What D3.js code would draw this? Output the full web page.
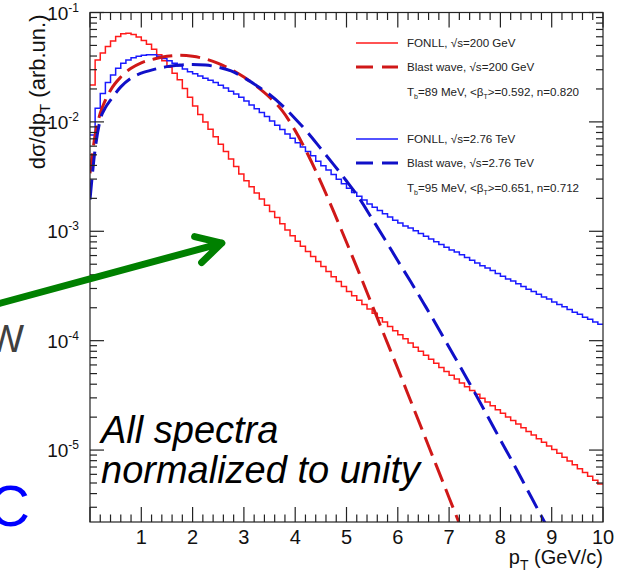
<!DOCTYPE html>
<html>
<head>
<meta charset="utf-8">
<script src="https://cdn.jsdelivr.net/npm/d3@7"></script>
<style>
  body { margin: 0; background: #fff; }
  svg { display: block; }
  text { font-family: "Liberation Sans", Arial, Helvetica, sans-serif; }
</style>
</head>
<body>
<div id="chart"></div>
<script>

// histogram binning (FONLL curves), GeV/c
var ptMin = 0, ptMax = 10, nBins = 100;

// FONLL, sqrt(s)=200 GeV  (one value per 0.1 GeV/c bin)
var fonll200 = [
  2.17e-2, 3.67e-2, 4.27e-2, 4.90e-2, 5.50e-2, 6.03e-2, 6.38e-2, 6.46e-2, 6.31e-2, 5.96e-2,
  5.56e-2, 5.13e-2, 4.62e-2, 4.12e-2, 3.63e-2, 3.16e-2, 2.79e-2, 2.43e-2, 2.02e-2, 1.68e-2,
  1.40e-2, 1.17e-2, 1.00e-2, 8.55e-3, 7.31e-3, 6.25e-3, 5.35e-3, 4.57e-3, 3.91e-3, 3.34e-3,
  2.90e-3, 2.55e-3, 2.24e-3, 1.97e-3, 1.73e-3, 1.52e-3, 1.34e-3, 1.17e-3, 1.03e-3, 9.08e-4,
  8.09e-4, 7.28e-4, 6.55e-4, 5.89e-4, 5.30e-4, 4.76e-4, 4.29e-4, 3.85e-4, 3.47e-4, 3.12e-4,
  2.82e-4, 2.57e-4, 2.34e-4, 2.14e-4, 1.95e-4, 1.78e-4, 1.62e-4, 1.48e-4, 1.35e-4, 1.23e-4,
  1.13e-4, 1.04e-4, 9.51e-5, 8.73e-5, 8.02e-5, 7.36e-5, 6.76e-5, 6.21e-5, 5.70e-5, 5.24e-5,
  4.83e-5, 4.46e-5, 4.11e-5, 3.79e-5, 3.50e-5, 3.23e-5, 2.98e-5, 2.75e-5, 2.54e-5, 2.34e-5,
  2.17e-5, 2.01e-5, 1.86e-5, 1.73e-5, 1.60e-5, 1.48e-5, 1.37e-5, 1.27e-5, 1.18e-5, 1.09e-5,
  1.01e-5, 9.33e-6, 8.61e-6, 7.94e-6, 7.33e-6, 6.76e-6, 6.24e-6, 5.75e-6, 5.31e-6, 4.90e-6
];

// FONLL, sqrt(s)=2.76 TeV
var fonll276 = [
  7.59e-3, 1.33e-2, 1.82e-2, 2.29e-2, 2.69e-2, 3.09e-2, 3.43e-2, 3.67e-2, 3.85e-2, 3.98e-2,
  4.07e-2, 4.12e-2, 4.12e-2, 3.98e-2, 3.80e-2, 3.63e-2, 3.43e-2, 3.24e-2, 3.05e-2, 2.88e-2,
  2.75e-2, 2.63e-2, 2.51e-2, 2.40e-2, 2.29e-2, 2.16e-2, 2.04e-2, 1.91e-2, 1.80e-2, 1.68e-2,
  1.55e-2, 1.43e-2, 1.32e-2, 1.22e-2, 1.12e-2, 1.02e-2, 9.33e-3, 8.51e-3, 7.76e-3, 7.08e-3,
  6.46e-3, 5.89e-3, 5.37e-3, 4.90e-3, 4.37e-3, 3.98e-3, 3.63e-3, 3.31e-3, 2.99e-3, 2.72e-3,
  2.48e-3, 2.26e-3, 2.09e-3, 1.93e-3, 1.78e-3, 1.66e-3, 1.55e-3, 1.45e-3, 1.35e-3, 1.26e-3,
  1.19e-3, 1.12e-3, 1.07e-3, 1.01e-3, 9.55e-4, 9.02e-4, 8.51e-4, 8.04e-4, 7.59e-4, 7.16e-4,
  6.76e-4, 6.46e-4, 6.10e-4, 5.75e-4, 5.43e-4, 5.13e-4, 4.84e-4, 4.62e-4, 4.37e-4, 4.12e-4,
  3.89e-4, 3.67e-4, 3.51e-4, 3.31e-4, 3.13e-4, 2.95e-4, 2.82e-4, 2.66e-4, 2.51e-4, 2.40e-4,
  2.26e-4, 2.14e-4, 2.04e-4, 1.93e-4, 1.82e-4, 1.74e-4, 1.64e-4, 1.57e-4, 1.48e-4, 1.41e-4
];

// Blast wave, sqrt(s)=200 GeV
var bw200Pt = [0, 0.1, 0.2, 0.3, 0.4, 0.6, 0.8, 1, 1.25, 1.5, 1.75, 2, 2.25, 2.5, 2.75,
  3, 3.25, 3.5, 3.75, 4, 4.25, 4.5, 4.75, 5, 5.25, 5.5, 5.75, 6, 6.25, 6.5, 6.75, 7, 7.25];
var bw200 = [3.39e-3, 7.59e-3, 1.20e-2, 1.58e-2, 1.95e-2, 2.57e-2, 3.09e-2, 3.47e-2, 3.76e-2,
  3.98e-2, 4.06e-2, 3.98e-2, 3.76e-2, 3.43e-2, 3.02e-2, 2.57e-2, 2.11e-2, 1.68e-2, 1.26e-2,
  8.32e-3, 5.01e-3, 2.82e-3, 1.51e-3, 7.94e-4, 4.12e-4, 2.11e-4, 1.08e-4, 5.56e-5, 2.82e-5,
  1.43e-5, 7.24e-6, 3.67e-6, 1.86e-6];

// Blast wave, sqrt(s)=2.76 TeV
var bw276Pt = [0, 0.1, 0.2, 0.3, 0.4, 0.6, 0.8, 1, 1.25, 1.5, 1.75, 2, 2.25, 2.5, 2.75,
  3, 3.25, 3.5, 3.75, 4, 4.25, 4.5, 4.75, 5, 5.25, 5.5, 5.75, 6, 6.25, 6.5, 6.75, 7,
  7.25, 7.5, 7.75, 8, 8.25, 8.5, 8.75, 9];
var bw276 = [1.95e-3, 5.62e-3, 1.05e-2, 1.35e-2, 1.58e-2, 2.09e-2, 2.51e-2, 2.79e-2, 3.02e-2,
  3.20e-2, 3.31e-2, 3.35e-2, 3.31e-2, 3.16e-2, 2.92e-2, 2.54e-2, 2.14e-2, 1.78e-2, 1.41e-2,
  1.07e-2, 7.94e-3, 5.69e-3, 4.07e-3, 2.88e-3, 2.00e-3, 1.30e-3, 8.41e-4, 5.37e-4, 3.47e-4,
  2.21e-4, 1.40e-4, 8.71e-5, 5.43e-5, 3.35e-5, 2.04e-5, 1.24e-5, 7.59e-6, 4.57e-6, 2.75e-6,
  1.66e-6];

var xTickLabels = ["1", "2", "3", "4", "5", "6", "7", "8", "9", "10"];
var yTickExp = ["-1", "-2", "-3", "-4", "-5"];

var legendRows = [
  { label: "FONLL, \u221as=200 GeV", color: "#ff1a1a", dash: null, width: 1.5 },
  { label: "Blast wave, \u221as=200 GeV", color: "#d01818", dash: "17,9", width: 3 },
  { params: ["89", "0.592", "0.820"] },
  { label: "FONLL, \u221as=2.76 TeV", color: "#1a1aff", dash: null, width: 1.5 },
  { label: "Blast wave, \u221as=2.76 TeV", color: "#1010c8", dash: "17,9", width: 3 },
  { params: ["95", "0.651", "0.712"] }
];

var W = 621, H = 573;
var margin = { left: 90, right: 18, top: 12.5, bottom: 51 };
var width = W - margin.left - margin.right,
    height = H - margin.top - margin.bottom;

var svg = d3.select("#chart").append("svg")
    .attr("width", W)
    .attr("height", H);

var g = svg.append("g")
    .attr("transform", "translate(" + margin.left + "," + margin.top + ")");

var x = d3.scaleLinear().domain([ptMin, ptMax]).range([0, width]);
var y = d3.scaleLog().domain([2.2e-6, 0.1]).range([height, 0]);

svg.append("defs").append("clipPath").attr("id", "plot-clip")
  .append("rect").attr("width", width).attr("height", height);

// histogram step path
var binW = (ptMax - ptMin) / nBins;
function histPath(vals) {
    var pts = [];
    vals.forEach(function(v, i) {
        pts.push([x(ptMin + i * binW), y(v)]);
        pts.push([x(ptMin + (i + 1) * binW), y(v)]);
    });
    return d3.line()(pts);
}

var plot = g.append("g").attr("clip-path", "url(#plot-clip)");

var smooth = d3.line()
    .x(function(d) { return x(d[0]); })
    .y(function(d) { return y(d[1]); })
    .curve(d3.curveMonotoneX);

plot.append("path")
    .attr("d", histPath(fonll200))
    .attr("fill", "none").attr("stroke", "#ff1a1a").attr("stroke-width", 1.5);

plot.append("path")
    .attr("d", histPath(fonll276))
    .attr("fill", "none").attr("stroke", "#1a1aff").attr("stroke-width", 1.5);

plot.append("path")
    .attr("d", smooth(d3.zip(bw200Pt, bw200)))
    .attr("fill", "none").attr("stroke", "#d01818").attr("stroke-width", 3)
    .attr("stroke-dasharray", "20,8");

plot.append("path")
    .attr("d", smooth(d3.zip(bw276Pt, bw276)))
    .attr("fill", "none").attr("stroke", "#1010c8").attr("stroke-width", 3)
    .attr("stroke-dasharray", "20,8");

// frame
g.append("rect")
    .attr("width", width).attr("height", height)
    .attr("fill", "none").attr("stroke", "#222").attr("stroke-width", 1.2);

// x ticks, bottom and top
var xt = d3.range(0, 51).map(function(i) { return i * 0.2; });
xt.forEach(function(t) {
    var major = Math.abs(t - Math.round(t)) < 1e-6;
    var len = major ? 15 : 7.5;
    g.append("line").attr("x1", x(t)).attr("x2", x(t))
        .attr("y1", height).attr("y2", height - len)
        .attr("stroke", "#222").attr("stroke-width", 1.2);
    g.append("line").attr("x1", x(t)).attr("x2", x(t))
        .attr("y1", 0).attr("y2", len)
        .attr("stroke", "#222").attr("stroke-width", 1.2);
});

g.selectAll(".xlab").data(xTickLabels).enter().append("text")
    .attr("class", "xlab")
    .attr("x", function(d) { return x(+d); })
    .attr("y", height + 22)
    .attr("text-anchor", "middle")
    .attr("font-size", 20)
    .attr("fill", "#111")
    .text(function(d) { return d; });

// y ticks, left and right
y.ticks().forEach(function(t) {
    var m = t / Math.pow(10, Math.floor(Math.log10(t) + 1e-9));
    var major = Math.abs(m - 1) < 1e-6;
    var len = major ? 14 : 7;
    g.append("line").attr("x1", 0).attr("x2", len)
        .attr("y1", y(t)).attr("y2", y(t))
        .attr("stroke", "#222").attr("stroke-width", 1.2);
    g.append("line").attr("x1", width).attr("x2", width - len)
        .attr("y1", y(t)).attr("y2", y(t))
        .attr("stroke", "#222").attr("stroke-width", 1.2);
});

yTickExp.forEach(function(e) {
    var v = Math.pow(10, +e);
    var t = g.append("text")
        .attr("x", -11)
        .attr("y", y(v) + 7)
        .attr("text-anchor", "end")
        .attr("font-size", 19)
        .attr("fill", "#111");
    t.append("tspan").text("10");
    t.append("tspan").attr("font-size", 12).attr("dy", -8).text(e);
});

// axis titles
svg.append("text")
    .attr("transform", "translate(45," + (margin.top + 2) + ") rotate(-90)")
    .attr("text-anchor", "end")
    .attr("font-size", 22)
    .attr("fill", "#111")
    .call(function(t) {
        t.append("tspan").text("d\u03c3/dp");
        t.append("tspan").attr("font-size", 15).attr("dy", 5).text("T");
        t.append("tspan").attr("dy", -5).text(" (arb.un.)");
    });

svg.append("text")
    .attr("x", 603).attr("y", 564)
    .attr("text-anchor", "end")
    .attr("font-size", 20)
    .attr("fill", "#111")
    .call(function(t) {
        t.append("tspan").text("p");
        t.append("tspan").attr("font-size", 14).attr("dy", 6).text("T");
        t.append("tspan").attr("dy", -6).text(" (GeV/c)");
    });

// legend
var legY = [43, 67, 92, 139, 163, 188];
var leg = svg.append("g");
legendRows.forEach(function(r, i) {
    var yy = legY[i];
    if (r.params) {
        var t = leg.append("text").attr("x", 407).attr("y", yy + 4)
            .attr("font-size", 11.6).attr("fill", "#222");
        t.append("tspan").text("T");
        t.append("tspan").attr("font-size", 7).attr("dy", 3).text("b");
        t.append("tspan").attr("dy", -3).text("=" + r.params[0] + " MeV, <\u03b2");
        t.append("tspan").attr("font-size", 7).attr("dy", 3).text("T");
        t.append("tspan").attr("dy", -3).text(">=" + r.params[1] + ", n=" + r.params[2]);
        return;
    }
    leg.append("line")
        .attr("x1", 356).attr("x2", 398).attr("y1", yy).attr("y2", yy)
        .attr("stroke", r.color).attr("stroke-width", r.width)
        .attr("stroke-dasharray", r.dash);
    leg.append("text").attr("x", 407).attr("y", yy + 4)
        .attr("font-size", 11.6).attr("fill", "#222")
        .text(r.label);
});

// annotations
var arrowFrom = [-1.75, 2.2e-4], arrowTo = [2.57, 7.8e-4];
var ax0 = x(arrowFrom[0]) + margin.left, ay0 = y(arrowFrom[1]) + margin.top,
    ax1 = x(arrowTo[0]) + margin.left, ay1 = y(arrowTo[1]) + margin.top;
var ang = Math.atan2(ay1 - ay0, ax1 - ax0), hl = 28, ha = 0.5;
svg.append("path")
    .attr("d", "M" + ax0 + "," + ay0 + "L" + ax1 + "," + ay1 +
        "M" + (ax1 - hl * Math.cos(ang - ha)) + "," + (ay1 - hl * Math.sin(ang - ha)) +
        "L" + ax1 + "," + ay1 +
        "L" + (ax1 - hl * Math.cos(ang + ha)) + "," + (ay1 - hl * Math.sin(ang + ha)))
    .attr("fill", "none").attr("stroke", "#008000").attr("stroke-width", 7)
    .attr("stroke-linecap", "round").attr("stroke-linejoin", "round");

svg.append("text").attr("x", 24).attr("y", 352)
    .attr("text-anchor", "end").attr("font-size", 38).attr("fill", "#404040")
    .text("W");

svg.append("text").attr("x", 30).attr("y", 526)
    .attr("text-anchor", "end").attr("font-size", 57).attr("fill", "#0000ff")
    .text("C");

svg.append("text").attr("x", 101).attr("y", 443)
    .attr("font-size", 38).attr("font-style", "italic").attr("fill", "#000")
    .text("All spectra");
svg.append("text").attr("x", 101).attr("y", 483)
    .attr("font-size", 38).attr("font-style", "italic").attr("fill", "#000")
    .text("normalized to unity");

</script>
</body>
</html>
